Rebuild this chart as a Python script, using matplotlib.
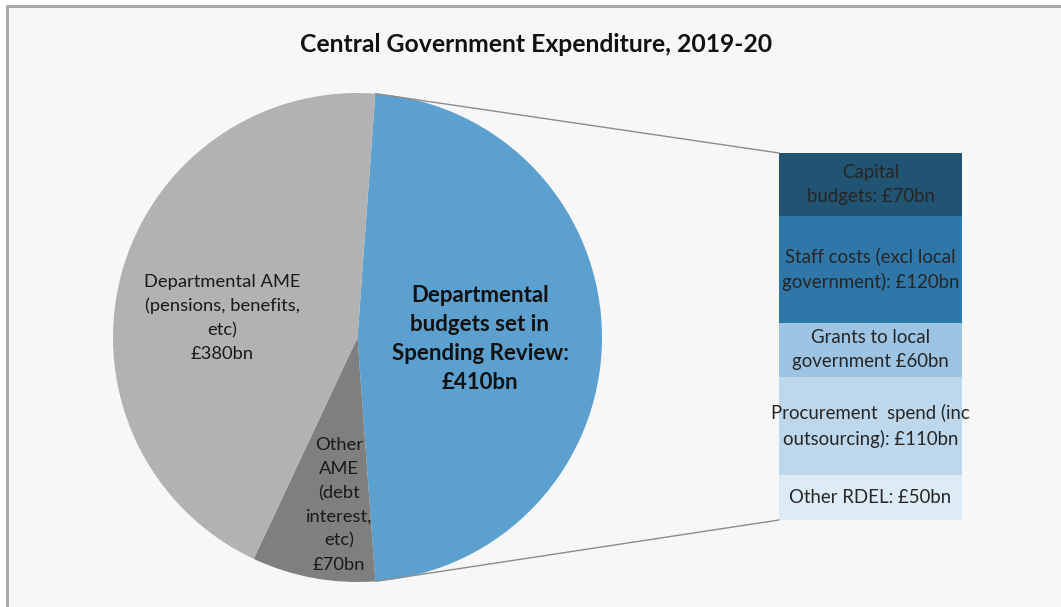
import matplotlib
matplotlib.use("Agg")
import matplotlib.pyplot as plt
from matplotlib.patches import Rectangle, ConnectionPatch
import numpy as np

plt.rcParams['font.family'] = ['Lato', 'DejaVu Sans']

# Pie: central government expenditure, £bn
pie_labels = ["Departmental\nbudgets set in\nSpending Review:\n£410bn",
              "Other\nAME\n(debt\ninterest,\netc)\n£70bn",
              "Departmental AME\n(pensions, benefits,\netc)\n£380bn"]
pie_values = [410, 70, 380]
pie_colors = ["#5BA0CF", "#7F7F7F", "#B2B2B2"]

# Breakdown of departmental budgets, £bn (top to bottom)
bar_labels = ["Capital\nbudgets: £70bn",
              "Staff costs (excl local\ngovernment): £120bn",
              "Grants to local\ngovernment £60bn",
              "Procurement  spend (inc\noutsourcing): £110bn",
              "Other RDEL: £50bn"]
bar_values = [70, 120, 60, 110, 50]
bar_colors = ["#215473", "#2E77A8", "#9EC4E3", "#BDD8EC", "#DDEBF6"]

W, H = 1061, 607
fig = plt.figure(figsize=(W / 100, H / 100), dpi=100, facecolor="white")

# chart area with border
fig.patches.append(Rectangle((7 / W, -0.05), 1.1, 1 - 6 / H + 0.05,
                             transform=fig.transFigure, facecolor="#F7F7F7",
                             edgecolor="#A6A6A6", linewidth=2, zorder=-5))

fig.text(536 / W, 1 - 44 / H, "Central Government Expenditure, 2019-20",
         ha="center", va="center", fontsize=17.8, fontweight="bold", color="#111111")

# --- pie ---
cx, cy, r = 357.5, 337.5, 244.5
ax_pie = fig.add_axes([(cx - r) / W, 1 - (cy + r) / H, 2 * r / W, 2 * r / H])
ax_pie.patch.set_visible(False)
total = sum(pie_values)
start = pie_values[0] / total * 360 / 2
wedges, _ = ax_pie.pie(pie_values, colors=pie_colors, startangle=start,
                       counterclock=False, radius=1,
                       wedgeprops=dict(linewidth=0))
ax_pie.set_xlim(-1, 1)
ax_pie.set_ylim(-1, 1)
ax_pie.set_aspect("auto")
ax_pie.axis("off")

label_pos = [(0.501, -0.006), (-0.076, -0.685), (-0.554, 0.080)]
for lbl, (x, y), i in zip(pie_labels, label_pos, range(3)):
    if i == 0:
        ax_pie.text(x, y, lbl, ha="center", va="center", fontsize=16,
                    fontweight="bold", color="#111111", linespacing=1.46)
    else:
        ax_pie.text(x, y, lbl, ha="center", va="center", fontsize=13.2,
                    color="#1A1A1A", linespacing=1.6)

# --- stacked bar ---
bx0, bx1, by0, by1 = 779, 962, 153, 520
ax_bar = fig.add_axes([bx0 / W, 1 - by1 / H, (bx1 - bx0) / W, (by1 - by0) / H])
ax_bar.patch.set_visible(False)
bar_total = sum(bar_values)
tops = bar_total - np.concatenate([[0], np.cumsum(bar_values)[:-1]])
for lbl, v, top, c in zip(bar_labels, bar_values, tops, bar_colors):
    ax_bar.bar(0, v, bottom=top - v, width=1, color=c, linewidth=0)
    ax_bar.text(0, top - v / 2, lbl, ha="center", va="center", fontsize=13.4,
                color="#262626", linespacing=1.5)
ax_bar.set_xlim(-0.5, 0.5)
ax_bar.set_ylim(0, bar_total)
ax_bar.axis("off")

# connector lines from the split wedge to the bar
a1 = np.deg2rad(start)
a2 = np.deg2rad(start - pie_values[0] / total * 360)
for a, yb in [(a1, bar_total), (a2, 0)]:
    con = ConnectionPatch(xyA=(np.cos(a), np.sin(a)), coordsA=ax_pie.transData,
                          xyB=(-0.5, yb), coordsB=ax_bar.transData,
                          color="#8C8C8C", linewidth=1)
    fig.add_artist(con)

fig.savefig("out.png", dpi=100, facecolor="white")
